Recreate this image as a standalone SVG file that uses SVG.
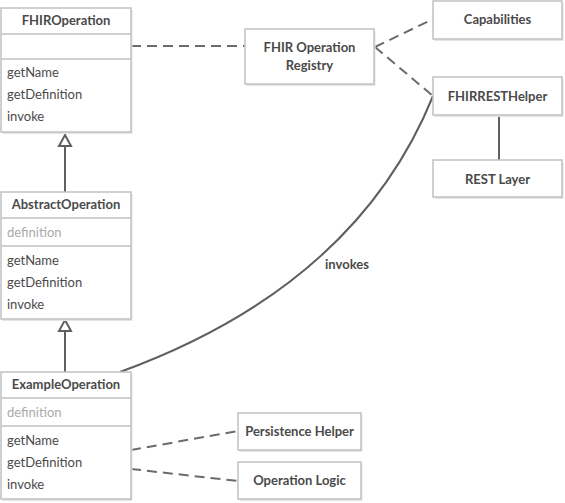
<svg xmlns="http://www.w3.org/2000/svg" width="565" height="503" viewBox="0 0 565 503">
<style>
.bg{fill:#ffffff}
.box{fill:#ffffff;stroke:#bdc2c2;stroke-width:1.5}
.sh{fill:#e4e6e6}
.div{stroke:#bdc2c2;stroke-width:1.5}
.t{font-family:Lato,"Open Sans",sans-serif;font-size:13px;fill:#4a4a4a}
.h{font-family:Lato,"Open Sans",sans-serif;font-size:13px;font-weight:bold;fill:#4a4a4a;text-anchor:middle}
.a{font-family:Lato,"Open Sans",sans-serif;font-size:13px;fill:#aaaaaa}
.dash{fill:none;stroke:#6b6b6b;stroke-width:2;stroke-dasharray:10,6}
.solid{fill:none;stroke:#5f5f5f;stroke-width:2}
.tri{fill:#ffffff;stroke:#5f5f5f;stroke-width:2}
</style>
<rect class="bg" width="565" height="503"/>
<g id="connectors">
<path class="dash" d="M131,46 L245,46"/>
<path class="dash" d="M375,47 L433,19"/>
<path class="dash" d="M375,47 L433,96"/>
<path class="solid" d="M499,115 L499,160"/>
<path class="solid" d="M433,96 Q356,286 120,372"/>
<path class="dash" d="M131,450 L238,431"/>
<path class="dash" d="M131,469 L238,481"/>
<path class="solid" d="M65,192 L65,146"/>
<path class="tri" d="M65,135 L71,146 L59,146 Z"/>
<path class="solid" d="M65,372 L65,331"/>
<path class="tri" d="M65,320 L71,331 L59,331 Z"/>
<text class="h" x="347" y="269">invokes</text>
</g>
<g id="FHIROperation">
<rect class="sh" x="2.5" y="10" width="130" height="124"/>
<rect class="box" x="1" y="8" width="130" height="124"/>
<line class="div" x1="1" y1="34" x2="131" y2="34"/>
<line class="div" x1="1" y1="59" x2="131" y2="59"/>
<text class="h" x="66" y="25">FHIROperation</text>
<text class="t" x="7" y="77">getName</text>
<text class="t" x="7" y="99">getDefinition</text>
<text class="t" x="7" y="121">invoke</text>
</g>
<g id="AbstractOperation">
<rect class="sh" x="2.5" y="194" width="130" height="127"/>
<rect class="box" x="1" y="192" width="130" height="127"/>
<line class="div" x1="1" y1="218" x2="131" y2="218"/>
<line class="div" x1="1" y1="246" x2="131" y2="246"/>
<text class="h" x="66" y="209">AbstractOperation</text>
<text class="a" x="7" y="237">definition</text>
<text class="t" x="7" y="265">getName</text>
<text class="t" x="7" y="287">getDefinition</text>
<text class="t" x="7" y="309">invoke</text>
</g>
<g id="ExampleOperation">
<rect class="sh" x="2.5" y="374" width="130" height="127"/>
<rect class="box" x="1" y="372" width="130" height="127"/>
<line class="div" x1="1" y1="398" x2="131" y2="398"/>
<line class="div" x1="1" y1="426" x2="131" y2="426"/>
<text class="h" x="66" y="389">ExampleOperation</text>
<text class="a" x="7" y="417">definition</text>
<text class="t" x="7" y="445">getName</text>
<text class="t" x="7" y="467">getDefinition</text>
<text class="t" x="7" y="489">invoke</text>
</g>
<g id="Registry">
<rect class="sh" x="246.5" y="31" width="129" height="55"/>
<rect class="box" x="245" y="29" width="129" height="55"/>
<text class="h" x="309.5" y="52">FHIR Operation</text>
<text class="h" x="309.5" y="70">Registry</text>
</g>
<g id="Capabilities">
<rect class="sh" x="434.5" y="3" width="129" height="38"/>
<rect class="box" x="433" y="1" width="129" height="38"/>
<text class="h" x="497.5" y="24">Capabilities</text>
</g>
<g id="FHIRRESTHelper">
<rect class="sh" x="434.5" y="79" width="129" height="38"/>
<rect class="box" x="433" y="77" width="129" height="38"/>
<text class="h" x="497.5" y="101">FHIRRESTHelper</text>
</g>
<g id="RESTLayer">
<rect class="sh" x="434.5" y="162" width="129" height="37"/>
<rect class="box" x="433" y="160" width="129" height="37"/>
<text class="h" x="497.5" y="184">REST Layer</text>
</g>
<g id="PersistenceHelper">
<rect class="sh" x="239.5" y="415" width="123" height="37"/>
<rect class="box" x="238" y="413" width="123" height="37"/>
<text class="h" x="299.5" y="436">Persistence Helper</text>
</g>
<g id="OperationLogic">
<rect class="sh" x="239.5" y="464" width="123" height="37"/>
<rect class="box" x="238" y="462" width="123" height="37"/>
<text class="h" x="299.5" y="485">Operation Logic</text>
</g>
</svg>
